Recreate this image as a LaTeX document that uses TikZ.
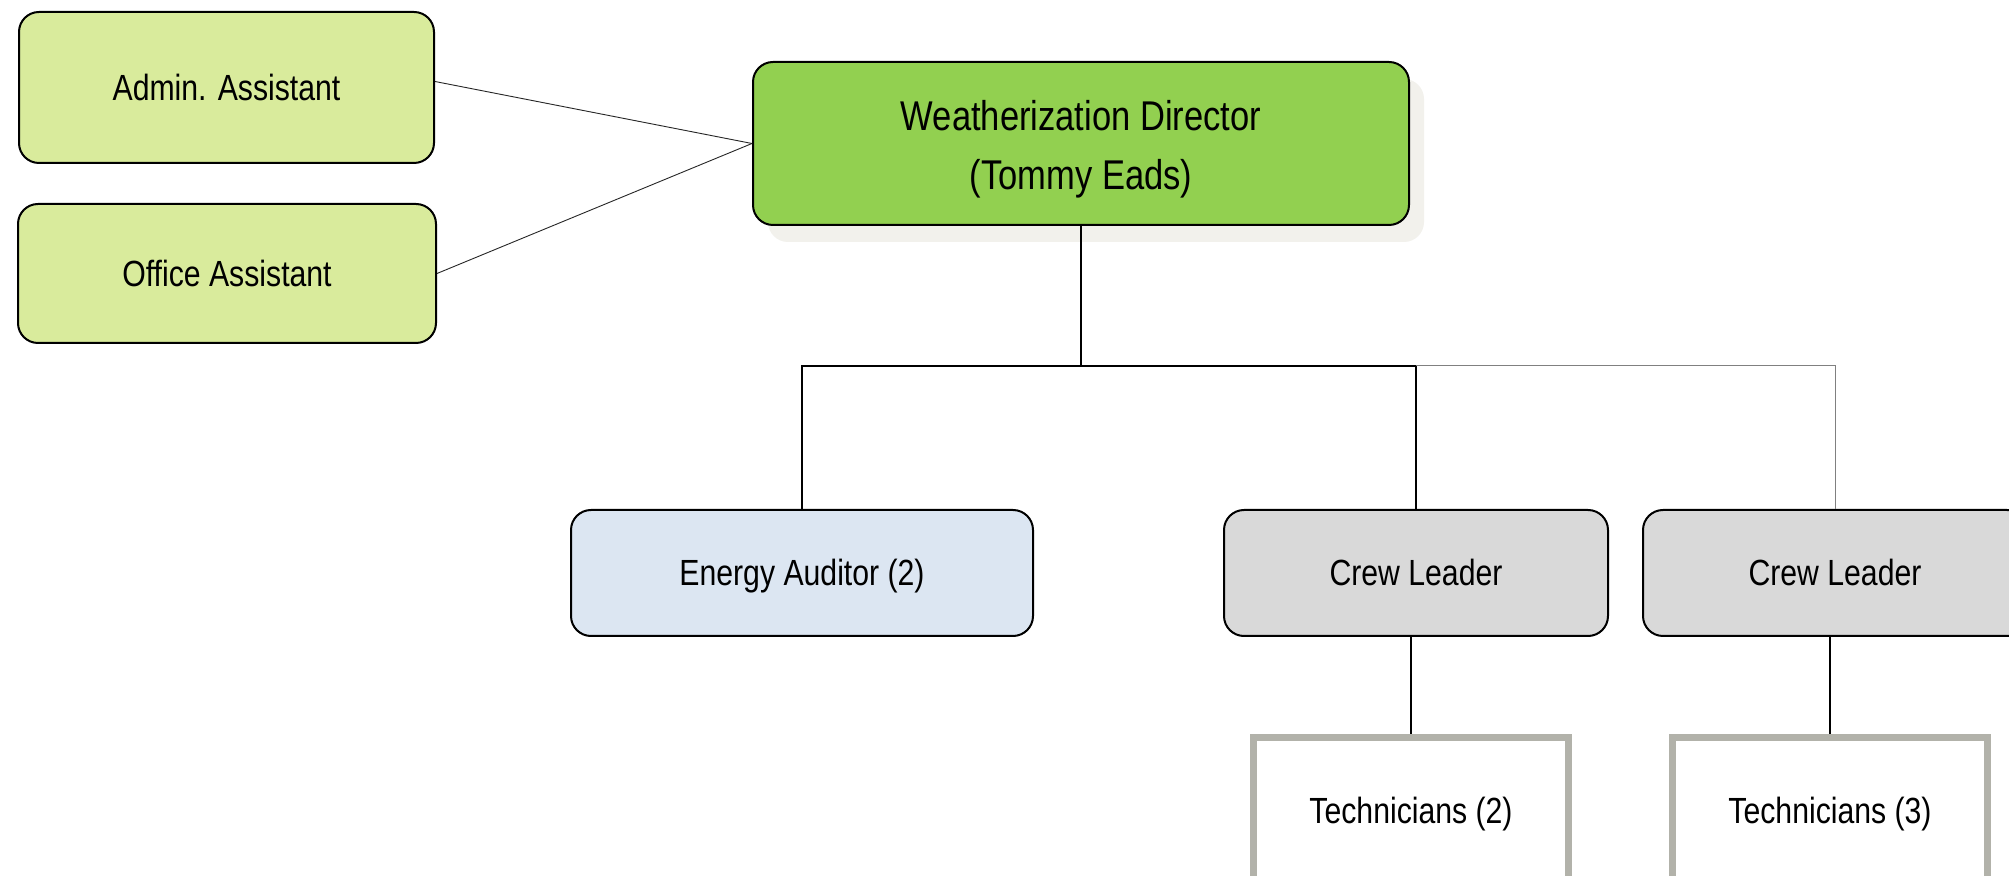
\documentclass[tikz,border=0pt]{standalone}
\usepackage{fontspec}
\setmainfont{Liberation Sans}[FakeStretch=0.83]
\usetikzlibrary{shadows}
\definecolor{lgreen}{HTML}{D9EB9C}
\definecolor{dgreen}{HTML}{92D050}
\definecolor{lblue}{HTML}{DCE6F2}
\definecolor{lgray}{HTML}{D9D9D9}
\definecolor{tborder}{HTML}{B2B2AA}
\definecolor{shadowc}{HTML}{F2F1EC}
\tikzset{
  box/.style={draw=black, line width=1pt, rounded corners=10pt, align=center,
    font=\fontsize{18.2pt}{22pt}\selectfont, inner sep=0pt},
  oneline/.style={text height=13pt, text depth=0pt},
  techbox/.style={draw=tborder, line width=3.5pt, fill=white, align=center,
    font=\fontsize{18.2pt}{22pt}\selectfont, inner sep=0pt,
    minimum width=157.5pt, minimum height=72.5pt, oneline},
  conn/.style={draw=black, line width=0.7pt},
  thinconn/.style={draw=black!85, line width=0.45pt},
  grayconn/.style={draw=black!50, line width=0.5pt}
}
\begin{document}
\begin{tikzpicture}[x=0.5pt,y=-0.5pt]
\useasboundingbox (0,0) rectangle (2009,876);
\clip (0,0) rectangle (2009,876);
\fill[white] (0,0) rectangle (2009,876);

\node[box, oneline, fill=lgreen, minimum width=207.5pt, minimum height=75.5pt] (admin) at (226.5,87.5) {Admin. Assistant};
\node[box, oneline, fill=lgreen, minimum width=209pt, minimum height=69.5pt] (office) at (227,273.5) {Office Assistant};
\node[box, fill=dgreen, minimum width=328pt, minimum height=81.5pt,
  font=\fontsize{20.8pt}{29.5pt}\selectfont,
  drop shadow={shadow xshift=7.5pt, shadow yshift=-8.5pt, fill=shadowc, opacity=1}]
  (dir) at (1081,143.5) {\rule{0pt}{21pt}Weatherization Director\\(Tommy Eads)};
\node[box, oneline, fill=lblue, minimum width=231pt, minimum height=63pt] (energy) at (802,573) {Energy Auditor (2)};
\node[box, oneline, fill=lgray, minimum width=192pt, minimum height=63pt] (crew1) at (1416,573) {Crew Leader};
\node[box, oneline, fill=lgray, minimum width=192pt, minimum height=63pt] (crew2) at (1835,573) {Crew Leader};
\node[techbox] (tech1) at (1411,810) {Technicians (2)};
\node[techbox] (tech2) at (1830,810) {Technicians (3)};

\coordinate (bus) at (1081,366);

\draw[thinconn] ([yshift=3pt]admin.east) -- (dir.west);
\draw[thinconn] (office.east) -- (dir.west);
\draw[conn] (dir.south) -- (bus);
\draw[conn] (energy.north) -- (energy.north |- bus) -- (crew1.north |- bus) -- (crew1.north);
\draw[grayconn] (crew1.north |- bus) -| (crew2.north);
\draw[conn] (tech1.north) -- (tech1.north |- crew1.south);
\draw[conn] (tech2.north) -- (tech2.north |- crew2.south);
\end{tikzpicture}
\end{document}
